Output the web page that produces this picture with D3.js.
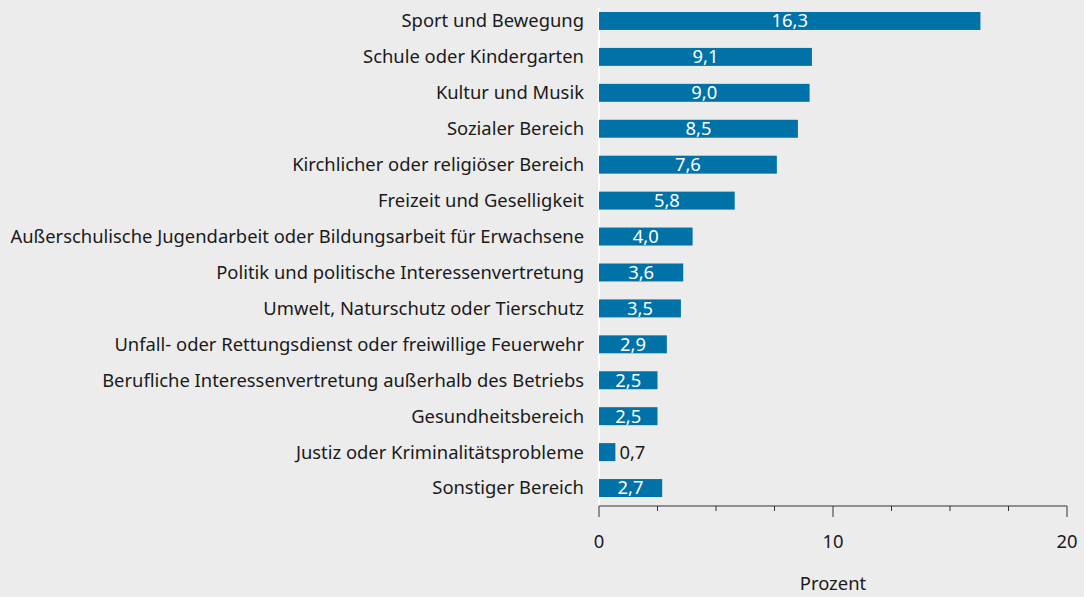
<!DOCTYPE html>
<html>
<head>
<meta charset="utf-8">
<script src="https://cdn.jsdelivr.net/npm/d3@7"></script>
<style>
  html, body { margin: 0; padding: 0; background: #ececec; }
  svg { display: block; }
</style>
</head>
<body>
<div id="chart"></div>
<script>
const categories = [
  "Sport und Bewegung",
  "Schule oder Kindergarten",
  "Kultur und Musik",
  "Sozialer Bereich",
  "Kirchlicher oder religiöser Bereich",
  "Freizeit und Geselligkeit",
  "Außerschulische Jugendarbeit oder Bildungsarbeit für Erwachsene",
  "Politik und politische Interessenvertretung",
  "Umwelt, Naturschutz oder Tierschutz",
  "Unfall- oder Rettungsdienst oder freiwillige Feuerwehr",
  "Berufliche Interessenvertretung außerhalb des Betriebs",
  "Gesundheitsbereich",
  "Justiz oder Kriminalitätsprobleme",
  "Sonstiger Bereich"
];
const values = [16.3, 9.1, 9.0, 8.5, 7.6, 5.8, 4.0, 3.6, 3.5, 2.9, 2.5, 2.5, 0.7, 2.7];
const majorTicks = [0, 10, 20];
const minorTicks = [2.5, 5, 7.5, 12.5, 15, 17.5];
const axisTitle = "Prozent";

const width = 1084, height = 597;
const font = "'Noto Sans', 'Open Sans', sans-serif";
const fontSize = "18.4px";
const barColor = "#0072a7";
const textColor = "#1a1a1a";

const svg = d3.select("#chart").append("svg")
  .attr("width", width)
  .attr("height", height)
  .style("background", "#ececec");

const x = d3.scaleLinear().domain([0, 20]).range([599, 1067]);
const y = d3.scaleBand().domain(categories).range([3, 506]).paddingInner(0.5).paddingOuter(0.25);

const axisY = 506;

// zero line
svg.append("line")
  .attr("x1", x(0)).attr("x2", x(0))
  .attr("y1", 8).attr("y2", axisY)
  .attr("stroke", "#ffffff")
  .attr("stroke-width", 2);

svg.selectAll("rect.bar")
  .data(values)
  .join("rect")
  .attr("class", "bar")
  .attr("x", x(0))
  .attr("y", (d, i) => y(categories[i]))
  .attr("width", d => x(d) - x(0))
  .attr("height", y.bandwidth())
  .attr("fill", barColor);

// category labels
svg.selectAll("text.cat")
  .data(categories)
  .join("text")
  .attr("class", "cat")
  .attr("x", 584)
  .attr("y", d => y(d) + y.bandwidth() / 2)
  .attr("dy", "0.35em")
  .attr("text-anchor", "end")
  .style("font-family", font)
  .style("font-size", fontSize)
  .attr("fill", textColor)
  .text(d => d);

// value labels
svg.selectAll("text.val")
  .data(values)
  .join("text")
  .attr("class", "val")
  .attr("x", d => d < 1.5 ? x(d) + 4 : (x(0) + x(d)) / 2)
  .attr("y", (d, i) => y(categories[i]) + y.bandwidth() / 2)
  .attr("dy", "0.35em")
  .attr("text-anchor", d => d < 1.5 ? "start" : "middle")
  .style("font-family", font)
  .style("font-size", fontSize)
  .attr("fill", d => d < 1.5 ? textColor : "#ffffff")
  .text(d => d3.format(".1f")(d).replace(".", ","));

// x axis
const axis = svg.append("g");
axis.append("line")
  .attr("x1", x(0)).attr("x2", x(20))
  .attr("y1", axisY).attr("y2", axisY)
  .attr("stroke", "#333").attr("stroke-width", 1);
axis.selectAll("line.major")
  .data(majorTicks)
  .join("line")
  .attr("class", "major")
  .attr("x1", d => x(d)).attr("x2", d => x(d))
  .attr("y1", axisY).attr("y2", axisY + 11)
  .attr("stroke", "#333");
axis.selectAll("line.minor")
  .data(minorTicks)
  .join("line")
  .attr("class", "minor")
  .attr("x1", d => x(d)).attr("x2", d => x(d))
  .attr("y1", axisY).attr("y2", axisY + 5)
  .attr("stroke", "#333");
axis.selectAll("text.tick")
  .data(majorTicks)
  .join("text")
  .attr("class", "tick")
  .attr("x", d => x(d))
  .attr("y", 542)
  .attr("dy", "0.35em")
  .attr("text-anchor", "middle")
  .style("font-family", font)
  .style("font-size", fontSize)
  .attr("fill", textColor)
  .text(d => d);

svg.append("text")
  .attr("x", x(10))
  .attr("y", 584)
  .attr("dy", "0.35em")
  .attr("text-anchor", "middle")
  .style("font-family", font)
  .style("font-size", fontSize)
  .attr("fill", textColor)
  .text(axisTitle);
</script>
</body>
</html>
